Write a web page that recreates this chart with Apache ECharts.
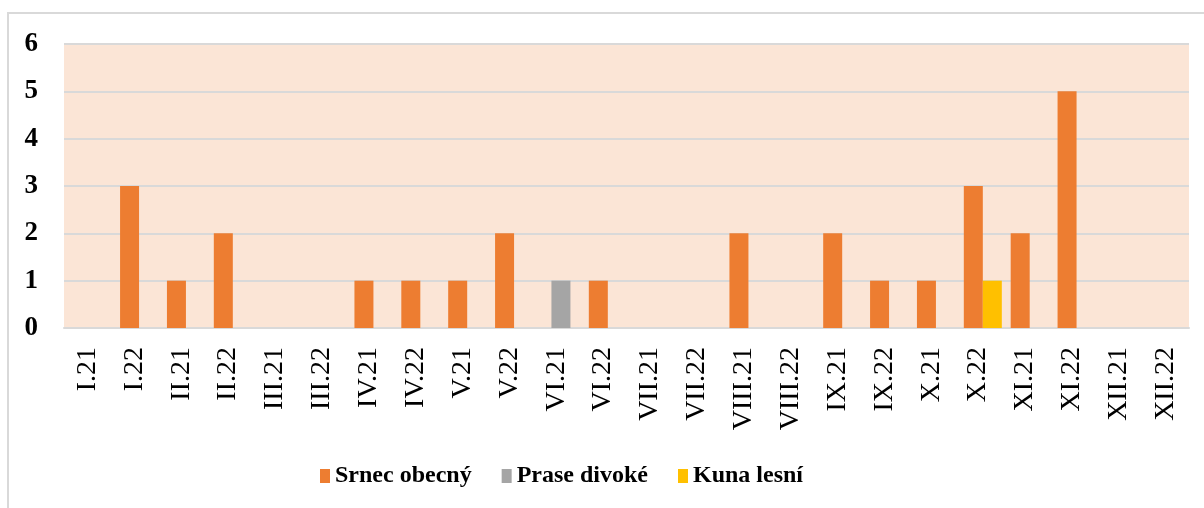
<!DOCTYPE html>
<html>
<head>
    <meta charset="UTF-8"/>
    <script type="text/javascript" src="https://cdn.jsdelivr.net/npm/echarts@6/dist/echarts.min.js"></script>
    <title>Srnec, prase, kuna</title>
    <style>
        html, body {margin: 0; padding: 0; background: #fff;}
        #main {width: 1204px; height: 508px;}
    </style>
</head>
<body>
<div id="main"></div>
<script type="text/javascript">
    var months = ['I.21', 'I.22', 'II.21', 'II.22', 'III.21', 'III.22', 'IV.21', 'IV.22',
        'V.21', 'V.22', 'VI.21', 'VI.22', 'VII.21', 'VII.22', 'VIII.21', 'VIII.22',
        'IX.21', 'IX.22', 'X.21', 'X.22', 'XI.21', 'XI.22', 'XII.21', 'XII.22']
    var srnec = [0, 3, 1, 2, 0, 0, 1, 1, 1, 2, 0, 1, 0, 0, 2, 0, 2, 1, 1, 3, 2, 5, 0, 0]
    var prase = [0, 0, 0, 0, 0, 0, 0, 0, 0, 0, 1, 0, 0, 0, 0, 0, 0, 0, 0, 0, 0, 0, 0, 0]
    var kuna = [0, 0, 0, 0, 0, 0, 0, 0, 0, 0, 0, 0, 0, 0, 0, 0, 0, 0, 0, 1, 0, 0, 0, 0]
    // prazdna rada - v puvodnim grafu drzi misto vlevo od sloupcu
    var prazdna = []
    var yTicks = [0, 1, 2, 3, 4, 5, 6]

    var myChart = echarts.init(document.getElementById('main'))

    function bar(name, data, color) {
        return {
            name: name,
            type: 'bar',
            data: data,
            barWidth: 19,
            barGap: '-50%',
            itemStyle: {color: color}
        }
    }

    var option = {
        animation: false,
        graphic: [{
            type: 'rect',
            shape: {x: 8, y: 13, width: 1220, height: 520},
            style: {fill: 'none', stroke: '#d9d9d9', lineWidth: 2}
        }],
        legend: {
            left: 315,
            top: 459,
            itemWidth: 10,
            itemHeight: 14,
            itemGap: 30,
            icon: 'rect',
            data: ['Srnec obecný', 'Prase divoké', 'Kuna lesní'],
            textStyle: {fontFamily: 'Liberation Serif', fontWeight: 'bold', fontSize: 24, color: '#000'}
        },
        grid: {
            left: 64, right: 15, top: 44, bottom: 180,
            show: true, backgroundColor: '#fbe5d6', borderWidth: 0
        },
        xAxis: {
            type: 'category',
            data: months,
            axisLine: {lineStyle: {color: '#d9d9d9', width: 2}},
            axisTick: {show: false},
            axisLabel: {
                rotate: 90, margin: 19, interval: 0,
                fontFamily: 'Liberation Serif', fontSize: 28, color: '#000'
            }
        },
        yAxis: {
            type: 'value',
            min: yTicks[0],
            max: yTicks[yTicks.length - 1],
            interval: 1,
            axisLine: {show: false},
            axisTick: {show: false},
            splitLine: {lineStyle: {color: '#d9d9d9', width: 2}},
            axisLabel: {
                margin: 26,
                fontFamily: 'Liberation Serif', fontWeight: 'bold', fontSize: 27, color: '#000'
            }
        },
        series: [
            bar('', prazdna, 'rgba(0,0,0,0)'),
            bar('Srnec obecný', srnec, '#ed7d31'),
            bar('Prase divoké', prase, '#a5a5a5'),
            bar('Kuna lesní', kuna, '#ffc000')
        ]
    }

    myChart.setOption(option)
</script>
</body>
</html>
